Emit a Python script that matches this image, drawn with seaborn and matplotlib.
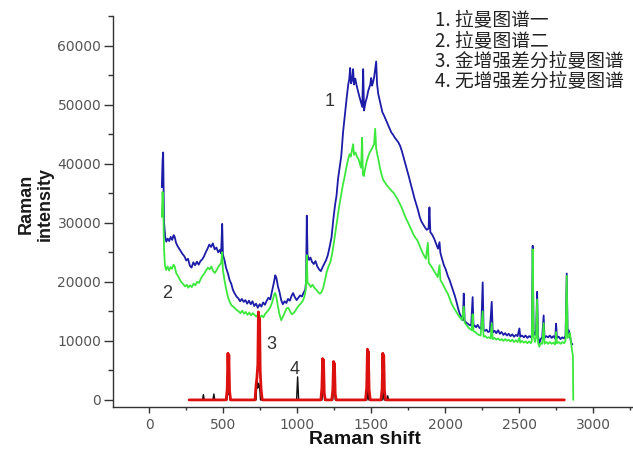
import numpy as np
import pandas as pd
import matplotlib
matplotlib.use("Agg")
import matplotlib.pyplot as plt
from matplotlib.ticker import MultipleLocator
import seaborn as sns

# ---- Spectrum 1 (blue): Raman shift (cm^-1) and intensity (counts) ----
shift_1 = [85, 90, 94, 100, 108, 115, 125, 135, 145, 155, 165, 172, 180, 190, 200,
           212, 225, 238, 250, 262, 275, 286, 298, 310, 322, 334, 346, 358, 370, 382,
           394, 406, 418, 430, 442, 454, 466, 478, 486, 493, 498, 509, 520, 532, 543,
           554, 566, 578, 590, 602, 614, 626, 638, 650, 662, 674, 686, 698, 710, 722,
           734, 746, 758, 770, 782, 794, 806, 818, 830, 842, 852, 860, 870, 880, 892,
           903, 915, 927, 938, 950, 962, 972, 984, 996, 1008, 1020, 1032, 1044, 1054, 1060,
           1065, 1070, 1080, 1090, 1100, 1112, 1124, 1136, 1148, 1160, 1172, 1184, 1196, 1208, 1220,
           1232, 1244, 1256, 1266, 1276, 1288, 1298, 1310, 1322, 1334, 1345, 1352, 1358, 1364, 1372,
           1378, 1384, 1393, 1402, 1410, 1420, 1430, 1440, 1446, 1452, 1462, 1472, 1480, 1488, 1494,
           1500, 1506, 1514, 1520, 1527, 1534, 1540, 1548, 1556, 1566, 1576, 1588, 1600, 1612, 1624,
           1636, 1648, 1660, 1672, 1684, 1696, 1708, 1720, 1732, 1744, 1756, 1768, 1780, 1792, 1804,
           1816, 1828, 1840, 1852, 1864, 1876, 1888, 1894, 1900, 1912, 1926, 1940, 1952, 1962, 1968,
           1980, 1992, 2004, 2018, 2030, 2042, 2054, 2066, 2078, 2090, 2100, 2112, 2120, 2126, 2132,
           2142, 2153, 2164, 2176, 2186, 2192, 2200, 2209, 2220, 2232, 2244, 2254, 2260, 2270, 2280,
           2290, 2302, 2315, 2322, 2334, 2346, 2358, 2370, 2382, 2394, 2406, 2418, 2430, 2442, 2454,
           2466, 2478, 2490, 2502, 2508, 2520, 2532, 2544, 2556, 2568, 2580, 2586, 2592, 2598, 2608,
           2615, 2622, 2628, 2637, 2646, 2656, 2666, 2672, 2684, 2696, 2708, 2720, 2732, 2744, 2750,
           2756, 2768, 2780, 2792, 2804, 2814, 2822, 2828, 2836, 2844, 2852, 2860]
intensity_1 = [36000, 40500, 41900, 30000, 27600, 26800, 27300, 26900, 27600, 27100, 27900, 27600, 26700, 26100, 25700,
               25200, 24700, 24300, 23600, 23900, 22700, 22400, 23300, 22800, 23400, 22900, 23500, 23800, 24300, 25000,
               25600, 26300, 25900, 26500, 25500, 25800, 25000, 25400, 24800, 29800, 24600, 23600, 22300, 21400, 20300,
               19700, 18600, 18000, 17500, 17200, 16700, 17100, 16600, 16900, 16300, 16800, 16200, 16700, 15900, 16300,
               15600, 16200, 15800, 16500, 16100, 16800, 17300, 17000, 18400, 19800, 21100, 20600, 19200, 18300, 16900,
               16200, 16700, 16400, 17100, 16800, 17600, 18100, 17400, 16900, 17300, 17700, 17500, 18200, 18600, 20000,
               31200, 24500, 23700, 24100, 23400, 23000, 23500, 22600, 22100, 21800, 22500, 23100, 23700, 24600, 26000,
               27500, 30500, 33000, 34600, 37400, 39600, 41300, 45300, 48200, 51000, 53400, 54300, 56200, 53600, 54200,
               56000, 53400, 54400, 53200, 52400, 51400, 50500, 49600, 56000, 49000, 50400, 51300, 52300, 52900, 53400,
               54500, 53200, 53900, 54600, 56000, 57300, 53500, 51800, 50900, 49800, 48700, 48100, 47400, 46700, 46000,
               45300, 44900, 44400, 44000, 43600, 43000, 42100, 41000, 39900, 38800, 37700, 36500, 35400, 34200, 33200,
               32200, 31000, 30200, 29700, 29200, 28800, 29000, 32600, 28400, 28000, 27300, 26400, 25600, 26700, 24900,
               23800, 22800, 22100, 21000, 20300, 19400, 18500, 17600, 16500, 15300, 14500, 14000, 13500, 18000, 13400,
               13100, 12900, 12700, 12600, 17400, 12400, 12600, 12300, 12700, 12200, 12000, 19900, 11800, 11700, 11900,
               11500, 11600, 16600, 11400, 11700, 11300, 11800, 11200, 11500, 11000, 11300, 10900, 11200, 10800, 11100,
               10700, 11000, 10800, 12100, 10700, 10900, 10600, 10900, 10500, 10800, 10600, 11000, 26100, 11600, 11000,
               11800, 18300, 10800, 9600, 10300, 10600, 14300, 10500, 10800, 10600, 10900, 10500, 10800, 10400, 12900,
               10500, 10700, 10300, 10600, 10400, 10900, 21400, 11200, 11800, 10700, 9700, 9400]

# ---- Spectrum 2 (green) ----
shift_2 = [85, 90, 94, 100, 106, 114, 124, 134, 144, 154, 164, 172, 182, 194, 206,
           218, 230, 242, 254, 264, 276, 288, 300, 312, 324, 336, 348, 360, 372, 384,
           396, 408, 420, 432, 444, 456, 468, 478, 486, 493, 498, 509, 520, 532, 544,
           556, 568, 580, 592, 604, 616, 628, 640, 652, 664, 676, 688, 700, 712, 724,
           736, 748, 760, 772, 784, 796, 808, 820, 832, 844, 852, 860, 870, 880, 892,
           904, 916, 928, 940, 952, 964, 976, 988, 1000, 1012, 1024, 1036, 1048, 1058, 1065,
           1070, 1080, 1092, 1104, 1116, 1128, 1140, 1152, 1164, 1176, 1188, 1200, 1212, 1224, 1236,
           1248, 1260, 1272, 1284, 1296, 1308, 1320, 1332, 1344, 1354, 1362, 1370, 1378, 1384, 1394,
           1404, 1414, 1424, 1432, 1439, 1444, 1450, 1460, 1470, 1480, 1490, 1500, 1510, 1520, 1527,
           1534, 1542, 1550, 1560, 1570, 1582, 1594, 1606, 1618, 1630, 1642, 1654, 1666, 1678, 1690,
           1702, 1714, 1726, 1738, 1750, 1762, 1774, 1786, 1798, 1810, 1822, 1834, 1846, 1858, 1870,
           1883, 1890, 1902, 1914, 1926, 1938, 1950, 1962, 1968, 1980, 1992, 2004, 2018, 2030, 2042,
           2054, 2066, 2078, 2090, 2102, 2114, 2126, 2132, 2144, 2156, 2168, 2180, 2186, 2192, 2204,
           2216, 2228, 2240, 2254, 2260, 2272, 2284, 2296, 2308, 2315, 2322, 2334, 2346, 2358, 2370,
           2382, 2394, 2406, 2418, 2430, 2442, 2454, 2466, 2478, 2490, 2502, 2508, 2520, 2532, 2544,
           2556, 2568, 2580, 2586, 2592, 2598, 2608, 2615, 2622, 2628, 2637, 2646, 2656, 2666, 2672,
           2684, 2696, 2708, 2720, 2732, 2744, 2750, 2756, 2768, 2780, 2792, 2804, 2814, 2822, 2828,
           2836, 2844, 2852, 2858, 2864, 2866]
intensity_2 = [31000, 35200, 33500, 25500, 22800, 22000, 22600, 21900, 22500, 22200, 22900, 22600, 21500, 21000, 20400,
               19900, 19600, 19200, 19500, 19000, 19400, 19100, 19700, 19400, 20000, 19800, 20500, 21000, 21400, 21900,
               22400, 22100, 22600, 21800, 21500, 22000, 22600, 22900, 23200, 25000, 22000, 20200, 18800, 17400, 16600,
               16000, 15800, 15500, 15200, 15000, 14700, 15100, 14600, 14900, 14400, 14800, 14300, 14700, 14400, 14100,
               14500, 13900, 14300, 14000, 14600, 14900, 15300, 15800, 16600, 17800, 18100, 17300, 15800, 14500, 13500,
               14100, 14800, 15500, 15600, 15000, 14500, 14700, 15100, 15600, 16000, 16300, 16700, 17400, 18600, 24500,
               19800, 19600, 19100, 19500, 19000, 18700, 18300, 18000, 18200, 19000, 20300, 21700, 22600, 23300, 24700,
               26600, 28700, 30800, 32800, 34500, 36300, 37700, 39300, 40700, 41600, 41200, 42300, 43300, 41500, 41900,
               41200, 40800, 40000, 39300, 44400, 38200, 37900, 39200, 40400, 41200, 41900, 42300, 42800, 43300, 45900,
               42600, 41500, 40600, 39200, 38200, 37200, 36800, 36300, 36000, 35600, 35300, 35000, 34500, 34000, 33400,
               32800, 32100, 31300, 30600, 30000, 29300, 28700, 28000, 27500, 27100, 26500, 25700, 25000, 24400, 23900,
               26600, 23200, 22800, 22300, 21800, 21300, 20800, 22800, 20300, 19800, 19200, 18600, 18000, 17200, 16400,
               15800, 15300, 14800, 14300, 13900, 13500, 15800, 13100, 12700, 12300, 12000, 11800, 14500, 11600, 11500,
               11200, 11000, 10900, 15000, 10700, 10800, 10500, 10600, 10400, 13000, 10300, 10500, 10200, 10400, 10100,
               10300, 10000, 10300, 10000, 10200, 9900, 10200, 9800, 10100, 9800, 10500, 9700, 10000, 9700, 9900,
               9600, 9900, 9600, 10000, 25500, 10800, 9800, 10600, 17000, 9700, 9000, 9600, 9500, 13000, 9500,
               9800, 9500, 9800, 9500, 9700, 9400, 11500, 9600, 9800, 9500, 9800, 9600, 10000, 21000, 10500,
               10800, 11300, 9500, 8400, 7500, 0]

# ---- Spectrum 3 (red): gold-enhanced difference spectrum ----
shift_3 = [270, 520, 527, 532, 535, 538, 543, 550,
           715, 722, 728, 734, 738, 742, 746, 750, 756, 764,
           1160, 1167, 1172, 1175, 1178, 1183, 1190,
           1234, 1241, 1246, 1249, 1252, 1257, 1264,
           1462, 1470, 1475, 1478, 1481, 1486, 1494,
           1566, 1574, 1579, 1582, 1585, 1590, 1598, 2806]
intensity_3 = [0, 0, 1800, 7900, 5200, 7600, 1500, 0,
               0, 2500, 3800, 6000, 14900, 9500, 13800, 5000, 1800, 0,
               0, 2000, 7000, 4500, 6800, 1200, 0,
               0, 1800, 6500, 4000, 6200, 1000, 0,
               0, 2200, 8600, 5800, 8200, 1800, 0,
               0, 1800, 7900, 5200, 7500, 1500, 0, 0]

# ---- Spectrum 4 (black): non-enhanced difference spectrum ----
shift_4 = [265, 360, 366, 372, 430, 437, 443, 525, 531, 536, 540, 546,
           722, 728, 734, 740, 746, 752, 996, 1003, 1010,
           1168, 1174, 1180, 1186, 1240, 1246, 1252, 1258,
           1472, 1478, 1484, 1577, 1583, 1589, 1606, 1612, 1618, 2800]
intensity_4 = [0, 0, 900, 0, 0, 1000, 0, 0, 2300, 900, 2000, 0,
               0, 3800, 2000, 2800, 2200, 0, 0, 3900, 0,
               0, 2200, 2000, 0, 0, 1800, 1500, 0,
               0, 1700, 0, 0, 2100, 0, 0, 700, 0, 0]

legend_lines = ["1. 拉曼图谱一", "2. 拉曼图谱二", "3. 金增强差分拉曼图谱", "4. 无增强差分拉曼图谱"]

sns.set_style("ticks")
plt.rcParams["font.family"] = ["DejaVu Sans"]

W, H = 633, 451
fig = plt.figure(figsize=(W / 100, H / 100), dpi=100)
ax = fig.add_axes([113 / W, 1 - 407 / H, 520 / W, 391 / H])

series = [
    (shift_1, intensity_1, "#1c1ca8", 1.3),
    (shift_2, intensity_2, "#3ce83c", 1.3),
    (shift_4, intensity_4, "#111111", 1.0),
    (shift_3, intensity_3, "#dd1010", 2.0),
]
for xs, ys, col, lw in series:
    df = pd.DataFrame({"shift": xs, "intensity": ys})
    sns.lineplot(data=df, x="shift", y="intensity", ax=ax, color=col,
                 linewidth=lw, estimator=None, sort=False, legend=False)

ax.set_xlim(-245, 3270)
ax.set_ylim(-1200, 65000)
ax.xaxis.set_major_locator(MultipleLocator(500))
ax.xaxis.set_minor_locator(MultipleLocator(250))
ax.yaxis.set_major_locator(MultipleLocator(10000))
ax.yaxis.set_minor_locator(MultipleLocator(5000))

for s in ("top", "right"):
    ax.spines[s].set_visible(False)
for s in ("left", "bottom"):
    ax.spines[s].set_color("#333333")
    ax.spines[s].set_linewidth(1.0)

ax.tick_params(axis="y", which="major", length=6.5, width=1, color="#333333",
               labelsize=10, labelcolor="#555555", pad=2)
ax.tick_params(axis="y", which="minor", length=3.6, width=1, color="#333333")
ax.tick_params(axis="x", which="major", length=4.5, width=1, color="#333333",
               labelsize=10, labelcolor="#555555", pad=3.5)
ax.tick_params(axis="x", which="minor", length=2.5, width=1, color="#333333")

ax.set_xlabel("Raman shift", fontsize=14, fontweight="bold",
              family=["Liberation Sans", "DejaVu Sans"], color="#111111")
ax.xaxis.set_label_coords(0.485, -0.062)
ax.set_ylabel("Raman\nintensity", fontsize=13, fontweight="bold", linespacing=1.2,
              family=["Liberation Sans", "DejaVu Sans"], color="#1a1a1a")
ax.yaxis.set_label_coords(-0.113, 0.52)

# curve number labels
for txt, x, y in [("1", 1216, 50600), ("2", 122, 18000), ("3", 824, 9300), ("4", 980, 5100)]:
    ax.text(x, y, txt, fontsize=13, color="#333333", ha="center", va="center",
            family=["Liberation Sans", "DejaVu Sans"])

# text legend in the upper right corner
for i, line in enumerate(legend_lines):
    fig.text(435 / W, 1 - (21 + 20.3 * i) / H, line, fontsize=13.5, color="#222222",
             ha="left", va="center", family=["Noto Sans CJK SC", "DejaVu Sans"])

fig.savefig("out.png", dpi=100, facecolor="white")
